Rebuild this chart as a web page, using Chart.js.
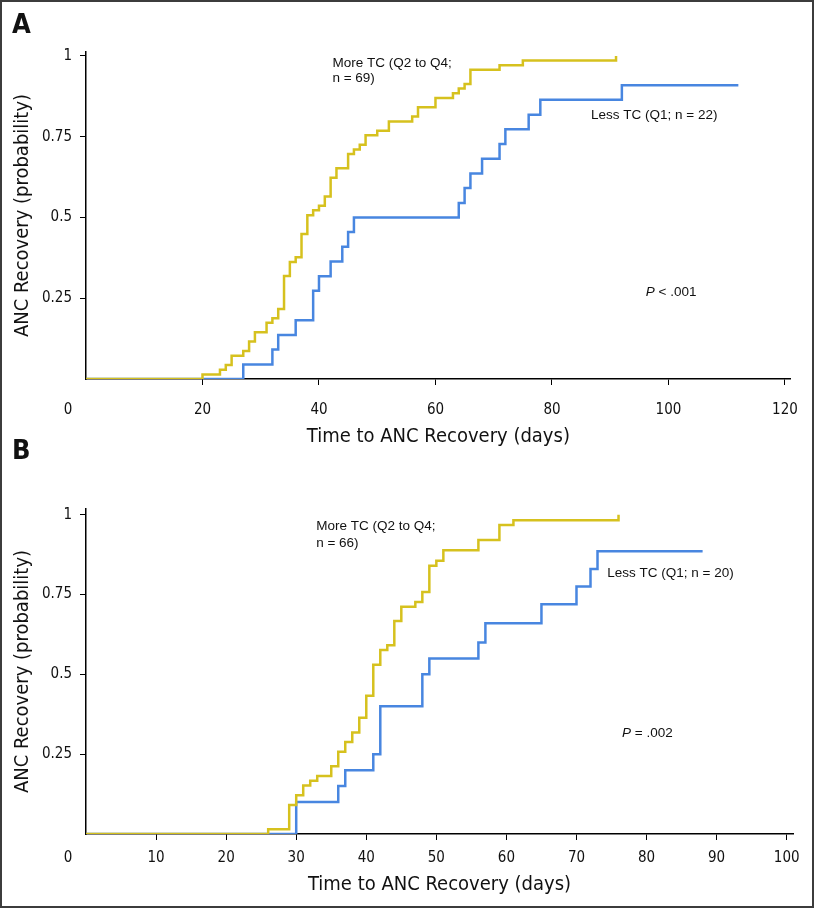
<!DOCTYPE html>
<html>
<head>
<meta charset="utf-8">
<script src="https://cdn.jsdelivr.net/npm/chart.js@4.4.1/dist/chart.umd.min.js"></script>
<style>
  body { margin: 0; background: #fff; }
  #page { position: relative; width: 814px; height: 908px; overflow: hidden; }
  #page canvas { position: absolute; left: 0; }
  #frame { position: absolute; left: 0; top: 0; width: 814px; height: 908px; box-sizing: border-box; border: 2px solid #3c3c3c; pointer-events: none; }
  .panel { position: absolute; left: 12px; font: bold 27px 'Liberation Sans Narrow', 'DejaVu Sans Condensed', sans-serif; color: #111; }
</style>
</head>
<body>
<div id="page">
  <canvas id="chartA" width="814" height="454" style="top:0"></canvas>
  <canvas id="chartB" width="814" height="454" style="top:454px"></canvas>
  <div class="panel" style="top:8px">A</div>
  <div class="panel" style="top:434px">B</div>
  <div id="frame"></div>
</div>
<script>
// Panel A - days / recovery probability
const aMoreDays = [0, 20, 23, 24, 25, 27, 28, 29, 31, 32, 33, 34, 35, 36, 37, 38, 39, 40, 41, 42, 43, 45, 46, 47, 48, 50, 52, 56, 57, 60, 63, 64, 65, 66, 71, 75, 91];
const aMoreProb = [0, 0.014, 0.029, 0.043, 0.072, 0.087, 0.116, 0.145, 0.174, 0.188, 0.217, 0.319, 0.362, 0.377, 0.449, 0.507, 0.522, 0.536, 0.565, 0.623, 0.652, 0.696, 0.710, 0.725, 0.754, 0.768, 0.797, 0.812, 0.841, 0.870, 0.884, 0.899, 0.913, 0.957, 0.971, 0.986, 1.0];
const aLessDays = [0, 27, 32, 33, 36, 39, 40, 42, 44, 45, 46, 64, 65, 66, 68, 71, 72, 76, 78, 92, 112];
const aLessProb = [0, 0.045, 0.091, 0.136, 0.182, 0.273, 0.318, 0.364, 0.409, 0.455, 0.5, 0.545, 0.591, 0.636, 0.682, 0.727, 0.773, 0.818, 0.864, 0.909, 0.909];
const aXTicks = [20, 40, 60, 80, 100, 120];

// Panel B
const bMoreDays = [0, 26, 29, 30, 31, 32, 33, 35, 36, 37, 38, 39, 40, 41, 42, 43, 44, 45, 47, 48, 49, 50, 51, 56, 59, 61, 76];
const bMoreProb = [0, 0.015, 0.091, 0.121, 0.152, 0.167, 0.182, 0.212, 0.258, 0.288, 0.318, 0.364, 0.433, 0.530, 0.576, 0.591, 0.667, 0.712, 0.727, 0.758, 0.840, 0.856, 0.889, 0.921, 0.968, 0.983, 1.0];
const bLessDays = [0, 30, 36, 37, 41, 42, 48, 49, 56, 57, 65, 70, 72, 73, 88];
const bLessProb = [0, 0.1, 0.15, 0.2, 0.25, 0.4, 0.5, 0.55, 0.6, 0.66, 0.72, 0.775, 0.83, 0.886, 0.886];
const bXTicks = [10, 20, 30, 40, 50, 60, 70, 80, 90, 100];

const yTicks = [0.25, 0.5, 0.75, 1];

const NARROW = "'Liberation Sans Narrow', 'DejaVu Sans Condensed', sans-serif";
const REGULAR = "'Liberation Sans', Arial, sans-serif";
const YELLOW = "rgb(214,193,30)";
const BLUE = "rgb(72,134,224)";

function points(days, probs) {
  return days.map((d, i) => ({ x: d, y: probs[i] }));
}

// text notes placed in data coordinates, plus the lone "0" under the corner
const notesPlugin = {
  id: "notes",
  afterDatasetsDraw(chart, args, opts) {
    const { ctx, scales: { x, y } } = chart;
    ctx.save();
    ctx.fillStyle = "#111";
    ctx.textBaseline = "middle";
    opts.items.forEach(n => {
      let px = x.getPixelForValue(n.x);
      const py = y.getPixelForValue(n.y);
      n.parts.forEach(p => {
        ctx.font = (p.italic ? "italic " : "") + "13.5px " + REGULAR;
        ctx.fillText(p.t, px, py);
        px += ctx.measureText(p.t).width;
      });
    });
    ctx.font = "15px " + NARROW;
    ctx.textAlign = "center";
    ctx.fillText("0", x.left - opts.zeroShift, x.top + 6 + opts.tickPad + 9);
    ctx.restore();
  }
};

function drawKM(id, p) {
  new Chart(document.getElementById(id), {
    type: "line",
    data: {
      datasets: [
        { data: points(p.lessDays, p.lessProb), borderColor: BLUE, order: 2 },
        { data: points(p.moreDays, p.moreProb), borderColor: YELLOW, order: 1 }
      ]
    },
    options: {
      responsive: false,
      animation: false,
      layout: { padding: { left: 0, right: 21, top: p.top, bottom: 0 } },
      elements: {
        line: { stepped: true, borderWidth: 2.5, tension: 0 },
        point: { radius: 0 }
      },
      scales: {
        x: {
          type: "linear",
          min: 0,
          max: p.xMax,
          afterBuildTicks: s => { s.ticks = p.xTicks.map(v => ({ value: v })); },
          afterFit: s => { s.height = p.xHeight; },
          grid: { drawOnChartArea: false, tickLength: 6, color: "#000", lineWidth: 1 },
          border: { color: "#000", width: 1.5 },
          ticks: { color: "#111", padding: p.tickPad, maxRotation: 0, font: { family: NARROW, size: 15 } },
          title: { display: true, text: "Time to ANC Recovery (days)", color: "#111",
                   padding: { top: 0, bottom: p.titlePad }, font: { family: NARROW, size: 20 } }
        },
        y: {
          min: 0,
          max: p.yMax,
          afterBuildTicks: s => { s.ticks = yTicks.map(v => ({ value: v })); },
          afterFit: s => { s.width = 86; },
          grid: { drawOnChartArea: false, tickLength: 6, color: "#000", lineWidth: 1 },
          border: { color: "#000", width: 1.5 },
          ticks: { color: "#111", padding: 8, font: { family: NARROW, size: 15 },
                   callback: v => String(v) },
          title: { display: true, text: "ANC Recovery (probability)", color: "#111",
                   padding: { top: 11, bottom: 0 }, font: { family: NARROW, size: 20 } }
        }
      },
      plugins: {
        legend: { display: false },
        tooltip: { enabled: false },
        notes: { items: p.notes, zeroShift: 18, tickPad: p.tickPad }
      }
    },
    plugins: [notesPlugin]
  });
}

drawKM("chartA", {
  moreDays: aMoreDays, moreProb: aMoreProb, lessDays: aLessDays, lessProb: aLessProb,
  xTicks: aXTicks, xMax: 121, yMax: 1.012, top: 52, xHeight: 75, tickPad: 16, titlePad: 5,
  notes: [
    { x: 42.3, y: 0.977, parts: [{ t: "More TC (Q2 to Q4;" }] },
    { x: 42.3, y: 0.931, parts: [{ t: "n = 69)" }] },
    { x: 86.7, y: 0.816, parts: [{ t: "Less TC (Q1; n = 22)" }] },
    { x: 96.1, y: 0.267, parts: [{ t: "P", italic: true }, { t: " < .001" }] }
  ]
});

drawKM("chartB", {
  moreDays: bMoreDays, moreProb: bMoreProb, lessDays: bLessDays, lessProb: bLessProb,
  xTicks: bXTicks, xMax: 100.9, yMax: 1.018, top: 55, xHeight: 74, tickPad: 9, titlePad: 11,
  notes: [
    { x: 32.85, y: 0.965, parts: [{ t: "More TC (Q2 to Q4;" }] },
    { x: 32.85, y: 0.912, parts: [{ t: "n = 66)" }] },
    { x: 74.4, y: 0.818, parts: [{ t: "Less TC (Q1; n = 20)" }] },
    { x: 76.5, y: 0.317, parts: [{ t: "P", italic: true }, { t: " = .002" }] }
  ]
});
</script>
</body>
</html>
